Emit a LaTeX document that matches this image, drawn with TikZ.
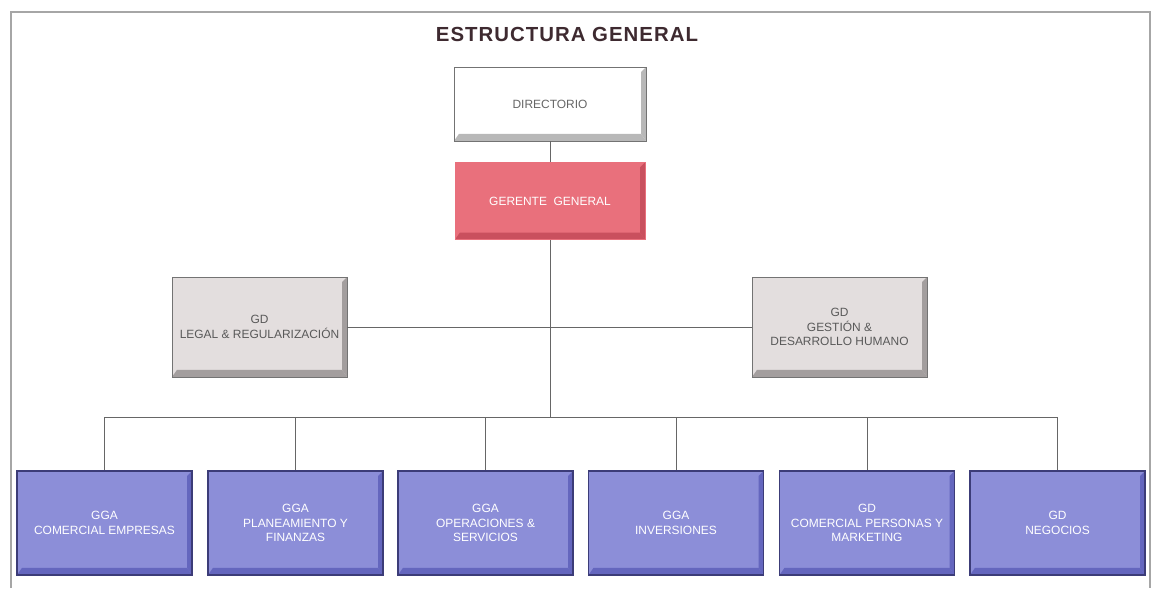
\documentclass[tikz,border=0pt]{standalone}
\usepackage{fontspec}
\setmainfont{Liberation Sans}
\usepackage{amsmath}

\definecolor{unitblue}{HTML}{8C8ED8}
\definecolor{unitblueline}{HTML}{3C3C78}
\definecolor{unitbluedark}{HTML}{6466BE}
\definecolor{unitred}{HTML}{E9707C}
\definecolor{unitreddark}{HTML}{C9505E}
\definecolor{unitgray}{HTML}{E3DEDE}
\definecolor{unitgraydark}{HTML}{A39E9E}
\definecolor{titlebrown}{HTML}{3E2A30}

\tikzset{bevel/.style={path picture={
    \fill[#1] (path picture bounding box.south west) -- (path picture bounding box.south east)
      -- ([shift={(-3.5pt,5pt)}]path picture bounding box.south east)
      -- ([shift={(3.5pt,5pt)}]path picture bounding box.south west) -- cycle;
    \fill[#1] (path picture bounding box.south east) -- (path picture bounding box.north east)
      -- ([shift={(-3.5pt,-3.5pt)}]path picture bounding box.north east)
      -- ([shift={(-3.5pt,5pt)}]path picture bounding box.south east) -- cycle;}}}

\begin{document}
\begin{tikzpicture}[x=0.025cm,y=-0.025cm]
  \tikzstyle{unit}=[rectangle,draw,inner sep=2pt,align=center,font=\fontsize{8.5}{10.5}\selectfont]
  \tikzstyle{top unit}=[unit,fill=white,draw=black!55,text=black!60,bevel=black!28,minimum width=4.8cm,minimum height=1.85cm]
  \tikzstyle{boss}=[unit,fill=unitred,draw=unitred,text=white,bevel=unitreddark,minimum width=4.75cm,minimum height=1.93cm]
  \tikzstyle{staff}=[unit,fill=unitgray,draw=black!55,text=black!65,bevel=unitgraydark,minimum width=4.375cm,minimum height=2.5cm]
  \tikzstyle{line unit}=[unit,fill=unitblue,draw=unitblueline,line width=0.8pt,text=white,bevel=unitbluedark,minimum width=4.375cm,minimum height=2.6cm]
  \tikzstyle{link}=[draw=black!60,line width=0.6pt]

  \useasboundingbox (0,0) rectangle (1152,588);
  \draw[black!35,line width=1.2pt] (11,588) -- (11,12) -- (1150,12) -- (1150,588);

  \node[font=\fontsize{14.5}{16}\selectfont\bfseries\addfontfeature{LetterSpace=5},text=titlebrown] (title) at (567,34) {ESTRUCTURA GENERAL};

  \node[top unit] (DIR) at (550,104) {DIRECTORIO};
  \node[boss] (GG) at (550,201) {GERENTE\ \ GENERAL};

  \node[staff] (LEG) at (259.5,327) {GD\\LEGAL \& REGULARIZACIÓN};
  \node[staff] (GES) at (839.5,327) {GD\\GESTIÓN \&\\DESARROLLO HUMANO};

  \node[line unit] (B_1) at (104.5,523) {GGA\\COMERCIAL EMPRESAS};
  \node[line unit] (B_2) at (295.5,523) {GGA\\PLANEAMIENTO Y\\FINANZAS};
  \node[line unit] (B_3) at (485.5,523) {GGA\\OPERACIONES \&\\SERVICIOS};
  \node[line unit] (B_4) at (676,523) {GGA\\INVERSIONES};
  \node[line unit] (B_5) at (867,523) {GD\\COMERCIAL PERSONAS Y\\MARKETING};
  \node[line unit] (B_6) at (1057.5,523) {GD\\NEGOCIOS};

  \coordinate (bus) at (550,417);

  \draw[link] (DIR) -- (GG);
  \draw[link] (GG) -- (bus);
  \draw[link] (LEG.east) -- (GES.west);
  \draw[link] (bus) -| (B_1.north);
  \draw[link] (bus) -| (B_2.north);
  \draw[link] (bus) -| (B_3.north);
  \draw[link] (bus) -| (B_4.north);
  \draw[link] (bus) -| (B_5.north);
  \draw[link] (bus) -| (B_6.north);
\end{tikzpicture}
\end{document}
